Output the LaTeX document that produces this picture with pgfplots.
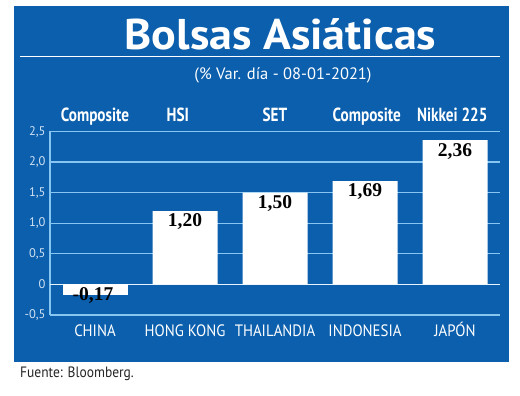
\documentclass[border=0pt]{standalone}
\usepackage{fontspec}
\setmainfont{PT Sans}
\newfontfamily\titlefont[FakeStretch=1.07]{PT Sans}
\newfontfamily\condbold[FakeStretch=0.8]{PT Sans}
\newfontfamily\condreg[FakeStretch=0.9]{PT Sans}
\newfontfamily\valfont{Liberation Serif}
\usepackage{pgfplots}
\pgfplotsset{compat=1.18}
\definecolor{panelblue}{HTML}{0B5FAD}
\definecolor{gridblue}{HTML}{86C6F0}
\definecolor{ticklab}{HTML}{D2E2F2}
\begin{document}
\begin{tikzpicture}[x=1pt,y=1pt]
\path[fill=white,use as bounding box] (0,0) rectangle (520,396);
\fill[panelblue] (14,34) rectangle (509,390);
\draw[white,line width=1.6pt] (20,339.3) -- (500,339.3);
\node[anchor=base,text=white,inner sep=0pt] at (280.5,346) {\titlefont\bfseries\fontsize{43}{48}\selectfont Bolsas Asiáticas};
\node[anchor=base,text=white,inner sep=0pt] at (283,316) {\fontsize{16.5}{19}\selectfont (\% Var. día - 08-01-2021)};
\node[anchor=base west,text=black!85,inner sep=0pt] at (20,18) {\condreg\fontsize{15}{18}\selectfont Fuente: Bloomberg.};
\begin{axis}[
  at={(50pt,81pt)}, anchor=south west,
  scale only axis, width=450pt, height=183.5pt,
  xmin=-0.5, xmax=4.5, ymin=-0.5, ymax=2.5,
  axis x line=none,
  axis y line*=left,
  axis line style={gridblue, line width=1.2pt},
  ytick={-0.5,0,0.5,1,1.5,2,2.5},
  yticklabels={{-0,5},{0},{0,5},{1,0},{1,5},{2,0},{2,5}},
  yticklabel style={font=\fontsize{12.5}{14}\selectfont, text=ticklab, xshift=-1pt},
  major tick length=0pt,
  ymajorgrids,
  grid style={gridblue, line width=1.2pt},
  extra y ticks={0}, extra y tick labels={},
  extra y tick style={grid style={white!80!gridblue, line width=1.6pt}},
  xtick={0,1,2,3,4},
  ybar, bar width=65pt,
  clip=false,
  /pgf/number format/.cd, fixed, fixed zerofill, precision=2, use comma, assume math mode=true,
]
\addplot[fill=white, draw=none, bar shift=0pt,
  nodes near coords,
  every node near coord/.append style={anchor=center, yshift=-1pt, xshift=-2pt, font=\valfont\bfseries\fontsize{19.5}{22}\selectfont, text=black}]
  coordinates {(0,-0.17)};
\addplot[fill=white, draw=none, bar shift=0pt,
  nodes near coords,
  every node near coord/.append style={anchor=center, yshift=-11pt, font=\valfont\bfseries\fontsize{19.5}{22}\selectfont, text=black}]
  coordinates {(1,1.20) (2,1.50) (3,1.69) (4,2.36)};
\foreach \i/\lab in {0/Composite,0.92/HSI,2/SET,3.02/Composite,3.97/Nikkei 225}{
  \edef\tmp{\noexpand\node[anchor=base,text=white,inner sep=0pt,yshift=9.5pt] at (axis cs:\i,2.5) {\noexpand\condbold\noexpand\bfseries\noexpand\fontsize{19}{22}\noexpand\selectfont \lab};}
  \tmp
}
\foreach \i/\lab in {0/CHINA,1/HONG KONG,2/THAILANDIA,3/INDONESIA,4/JAPÓN}{
  \edef\tmp{\noexpand\node[anchor=base,text=white,inner sep=0pt,yshift=-21.5pt] at (axis cs:\i,-0.5) {\noexpand\condreg\noexpand\fontsize{16.5}{19}\noexpand\selectfont \lab};}
  \tmp
}
\end{axis}
\end{tikzpicture}
\end{document}
